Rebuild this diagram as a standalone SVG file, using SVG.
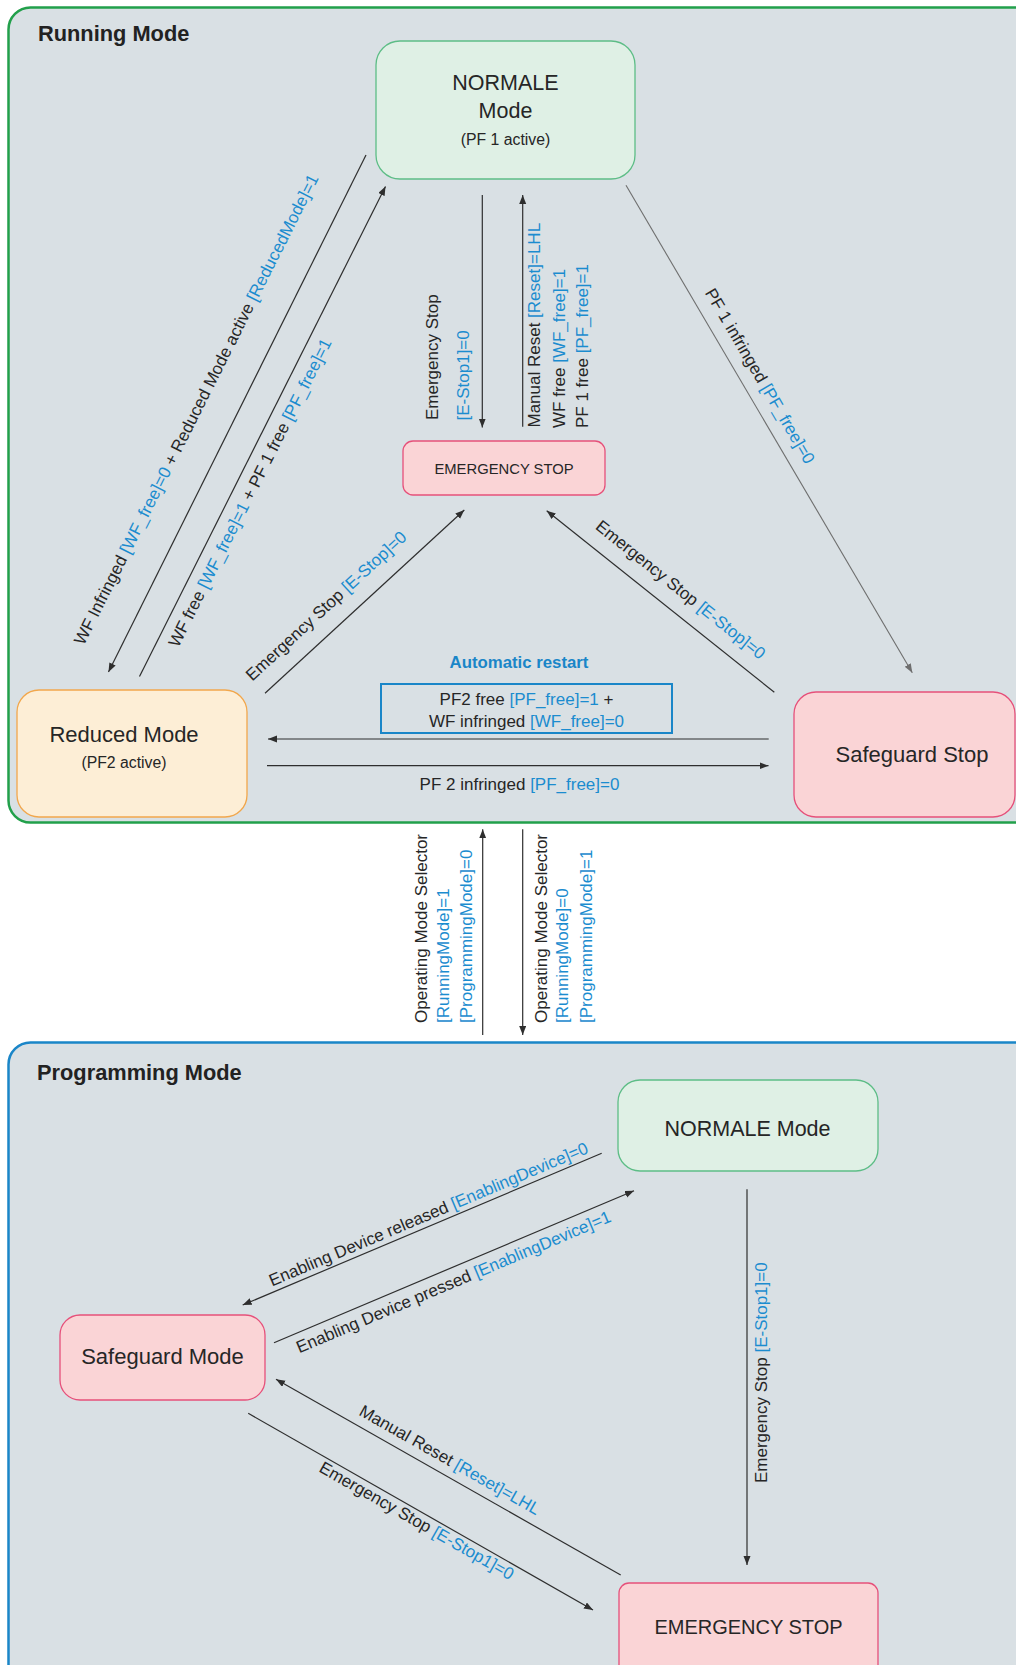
<svg xmlns="http://www.w3.org/2000/svg" width="1016" height="1665" viewBox="0 0 1016 1665">
  <defs>
    <marker id="arrow" markerUnits="userSpaceOnUse" markerWidth="10" markerHeight="8" refX="9" refY="3.5" orient="auto">
      <path d="M0,0 L9,3.5 L0,7 z" fill="#2e2e2e"/>
    </marker>
    <marker id="arrow-grey" markerUnits="userSpaceOnUse" markerWidth="10" markerHeight="8" refX="9" refY="3.5" orient="auto">
      <path d="M0,0 L9,3.5 L0,7 z" fill="#6e6e6e"/>
    </marker>
    <style>
      text { font-family: "Liberation Sans", Arial, sans-serif; fill: #262626; }
      .title { font-size: 21.8px; font-weight: bold; fill: #222222; }
      .state { font-size: 22px; text-anchor: middle; }
      .sub { font-size: 15.8px; text-anchor: middle; }
      .lbl { font-size: 17px; }
      .mid { text-anchor: middle; }
      .b { fill: #1b8ccf; }
      .panel { fill: #d9e0e4; stroke-width: 2.5; }
      .green { fill: #dff0e5; stroke: #5dbd86; stroke-width: 1.3; }
      .pink { fill: #fad4d6; stroke: #e6507a; stroke-width: 1.3; }
      .orange { fill: #fdeed6; stroke: #f2a74c; stroke-width: 1.3; }
      .edge { stroke: #2e2e2e; stroke-width: 1.2; fill: none; }
      .edge-grey { stroke: #6e6e6e; stroke-width: 1.1; fill: none; }
    </style>
  </defs>

  <rect width="1016" height="1665" fill="#ffffff"/>

  <!-- Running Mode container -->
  <g id="running-mode">
    <rect class="panel" x="8.5" y="7.5" width="1040" height="815" rx="22" stroke="#22a04b"/>
    <text class="title" x="38" y="41">Running Mode</text>
  </g>

  <!-- Programming Mode container -->
  <g id="programming-mode">
    <rect class="panel" x="8.5" y="1042.5" width="1040" height="700" rx="22" stroke="#1a86c8"/>
    <text class="title" x="37" y="1080">Programming Mode</text>
  </g>

  <!-- Running Mode states -->
  <g id="run-normale">
    <rect class="green" x="376" y="41" width="259" height="138" rx="24"/>
    <text class="state" x="505.5" y="90" style="font-size:21.5px">NORMALE</text>
    <text class="state" x="505.5" y="118" style="font-size:21.5px">Mode</text>
    <text class="sub" x="505.5" y="145">(PF 1 active)</text>
  </g>

  <g id="run-emergency-stop">
    <rect class="pink" x="403" y="441" width="202" height="54" rx="10"/>
    <text class="state" x="504" y="474" style="font-size:14.8px">EMERGENCY STOP</text>
  </g>

  <g id="run-reduced">
    <rect class="orange" x="17" y="690" width="230" height="127" rx="22"/>
    <text class="state" x="124" y="741.5">Reduced Mode</text>
    <text class="sub" x="124" y="768">(PF2 active)</text>
  </g>

  <g id="run-safeguard-stop">
    <rect class="pink" x="794" y="692" width="221" height="125" rx="22"/>
    <text class="state" x="912" y="762">Safeguard Stop</text>
  </g>

  <!-- Programming Mode states -->
  <g id="prog-normale">
    <rect class="green" x="618" y="1080" width="260" height="91" rx="22"/>
    <text class="state" x="747.5" y="1136" style="font-size:21.5px">NORMALE Mode</text>
  </g>

  <g id="prog-safeguard">
    <rect class="pink" x="60" y="1315" width="205" height="85" rx="20"/>
    <text class="state" x="162.5" y="1363.5">Safeguard Mode</text>
  </g>

  <g id="prog-emergency-stop">
    <rect class="pink" x="619" y="1583" width="259" height="110" rx="10"/>
    <text class="state" x="748.5" y="1634" style="font-size:20px">EMERGENCY STOP</text>
  </g>

  <!-- Transitions -->
  <g id="connectors">
    <!-- Running Mode -->
    <line class="edge" x1="366" y1="155" x2="108.5" y2="672" marker-end="url(#arrow)"/>
    <line class="edge" x1="139.5" y1="676.5" x2="385.5" y2="186.5" marker-end="url(#arrow)"/>
    <line class="edge" x1="482.3" y1="195" x2="482.3" y2="427.5" marker-end="url(#arrow)"/>
    <line class="edge" x1="522.7" y1="426.7" x2="522.7" y2="195" marker-end="url(#arrow)"/>
    <line class="edge-grey" x1="626" y1="185.3" x2="912.3" y2="672.7" marker-end="url(#arrow-grey)"/>
    <line class="edge" x1="265" y1="693.3" x2="464.3" y2="510" marker-end="url(#arrow)"/>
    <line class="edge" x1="774.3" y1="692.3" x2="546.7" y2="510.7" marker-end="url(#arrow)"/>
    <line class="edge" x1="768.7" y1="739" x2="268" y2="739" marker-end="url(#arrow)"/>
    <line class="edge" x1="267" y1="765.7" x2="768.5" y2="765.7" marker-end="url(#arrow)"/>

    <!-- Mode selector -->
    <line class="edge" x1="482.7" y1="1035" x2="482.7" y2="829.3" marker-end="url(#arrow)"/>
    <line class="edge" x1="522.7" y1="829.3" x2="522.7" y2="1035" marker-end="url(#arrow)"/>

    <!-- Programming Mode -->
    <line class="edge" x1="601.7" y1="1153.3" x2="242.7" y2="1305" marker-end="url(#arrow)"/>
    <line class="edge" x1="274" y1="1342.7" x2="634" y2="1190.7" marker-end="url(#arrow)"/>
    <line class="edge" x1="620.7" y1="1575" x2="276" y2="1379.3" marker-end="url(#arrow)"/>
    <line class="edge" x1="248.2" y1="1413.3" x2="593" y2="1610" marker-end="url(#arrow)"/>
    <line class="edge" x1="747" y1="1189.3" x2="747" y2="1565" marker-end="url(#arrow)"/>
  </g>

  <!-- Transition labels -->
  <g id="labels">
    <text class="lbl mid" transform="translate(201.4,412) rotate(-63.3)">WF Infringed <tspan class="b">[WF_free]=0</tspan> + Reduced Mode active <tspan class="b">[ReducedMode]=1</tspan></text>
    <text class="lbl mid" transform="translate(255.1,495.3) rotate(-63.3)">WF free <tspan class="b">[WF_free]=1</tspan> + PF 1 free <tspan class="b">[PF_free]=1</tspan></text>

    <text class="lbl" transform="translate(437.7,420) rotate(-90)">Emergency Stop</text>
    <text class="lbl b" transform="translate(469,420.5) rotate(-90)">[E-Stop1]=0</text>

    <text class="lbl" transform="translate(540,427.5) rotate(-90)">Manual Reset <tspan class="b">[Reset]=LHL</tspan></text>
    <text class="lbl" transform="translate(564.5,428) rotate(-90)">WF free <tspan class="b">[WF_free]=1</tspan></text>
    <text class="lbl" transform="translate(587.7,428) rotate(-90)">PF 1 free <tspan class="b">[PF_free]=1</tspan></text>

    <text class="lbl mid" transform="translate(755,379) rotate(59.6)">PF 1 infringed <tspan class="b">[PF_free]=0</tspan></text>
    <text class="lbl mid" transform="translate(330,610.2) rotate(-42.6)">Emergency Stop <tspan class="b">[E-Stop]=0</tspan></text>
    <text class="lbl mid" transform="translate(677,594.2) rotate(38.6)">Emergency Stop <tspan class="b">[E-Stop]=0</tspan></text>

    <text class="mid b" x="519" y="668" style="font-size:16.8px;font-weight:bold;fill:#1a86c8">Automatic restart</text>
    <rect x="381" y="684" width="291" height="49" fill="none" stroke="#1a86c8" stroke-width="2"/>
    <text class="lbl mid" x="526.5" y="705">PF2 free <tspan class="b">[PF_free]=1</tspan> +</text>
    <text class="lbl mid" x="526.5" y="726.7">WF infringed <tspan class="b">[WF_free]=0</tspan></text>
    <text class="lbl mid" x="519.5" y="790">PF 2 infringed <tspan class="b">[PF_free]=0</tspan></text>

    <text class="lbl" transform="translate(426.7,1023) rotate(-90)">Operating Mode Selector</text>
    <text class="lbl b" transform="translate(449,1023) rotate(-90)">[RunningMode]=1</text>
    <text class="lbl b" transform="translate(471.7,1023) rotate(-90)">[ProgrammingMode]=0</text>
    <text class="lbl" transform="translate(546.7,1023) rotate(-90)">Operating Mode Selector</text>
    <text class="lbl b" transform="translate(568.3,1023) rotate(-90)">[RunningMode]=0</text>
    <text class="lbl b" transform="translate(591.7,1023) rotate(-90)">[ProgrammingMode]=1</text>

    <text class="lbl mid" transform="translate(430.7,1219.5) rotate(-22.9)">Enabling Device released <tspan class="b">[EnablingDevice]=0</tspan></text>
    <text class="lbl mid" transform="translate(455.8,1287.2) rotate(-22.9)">Enabling Device pressed <tspan class="b">[EnablingDevice]=1</tspan></text>
    <text class="lbl mid" transform="translate(447,1465) rotate(29.6)">Manual Reset <tspan class="b">[Reset]=LHL</tspan></text>
    <text class="lbl mid" transform="translate(413.8,1525.7) rotate(29.7)">Emergency Stop <tspan class="b">[E-Stop1]=0</tspan></text>
    <text class="lbl" transform="translate(767,1483) rotate(-90)">Emergency Stop <tspan class="b">[E-Stop1]=0</tspan></text>
  </g>
</svg>
